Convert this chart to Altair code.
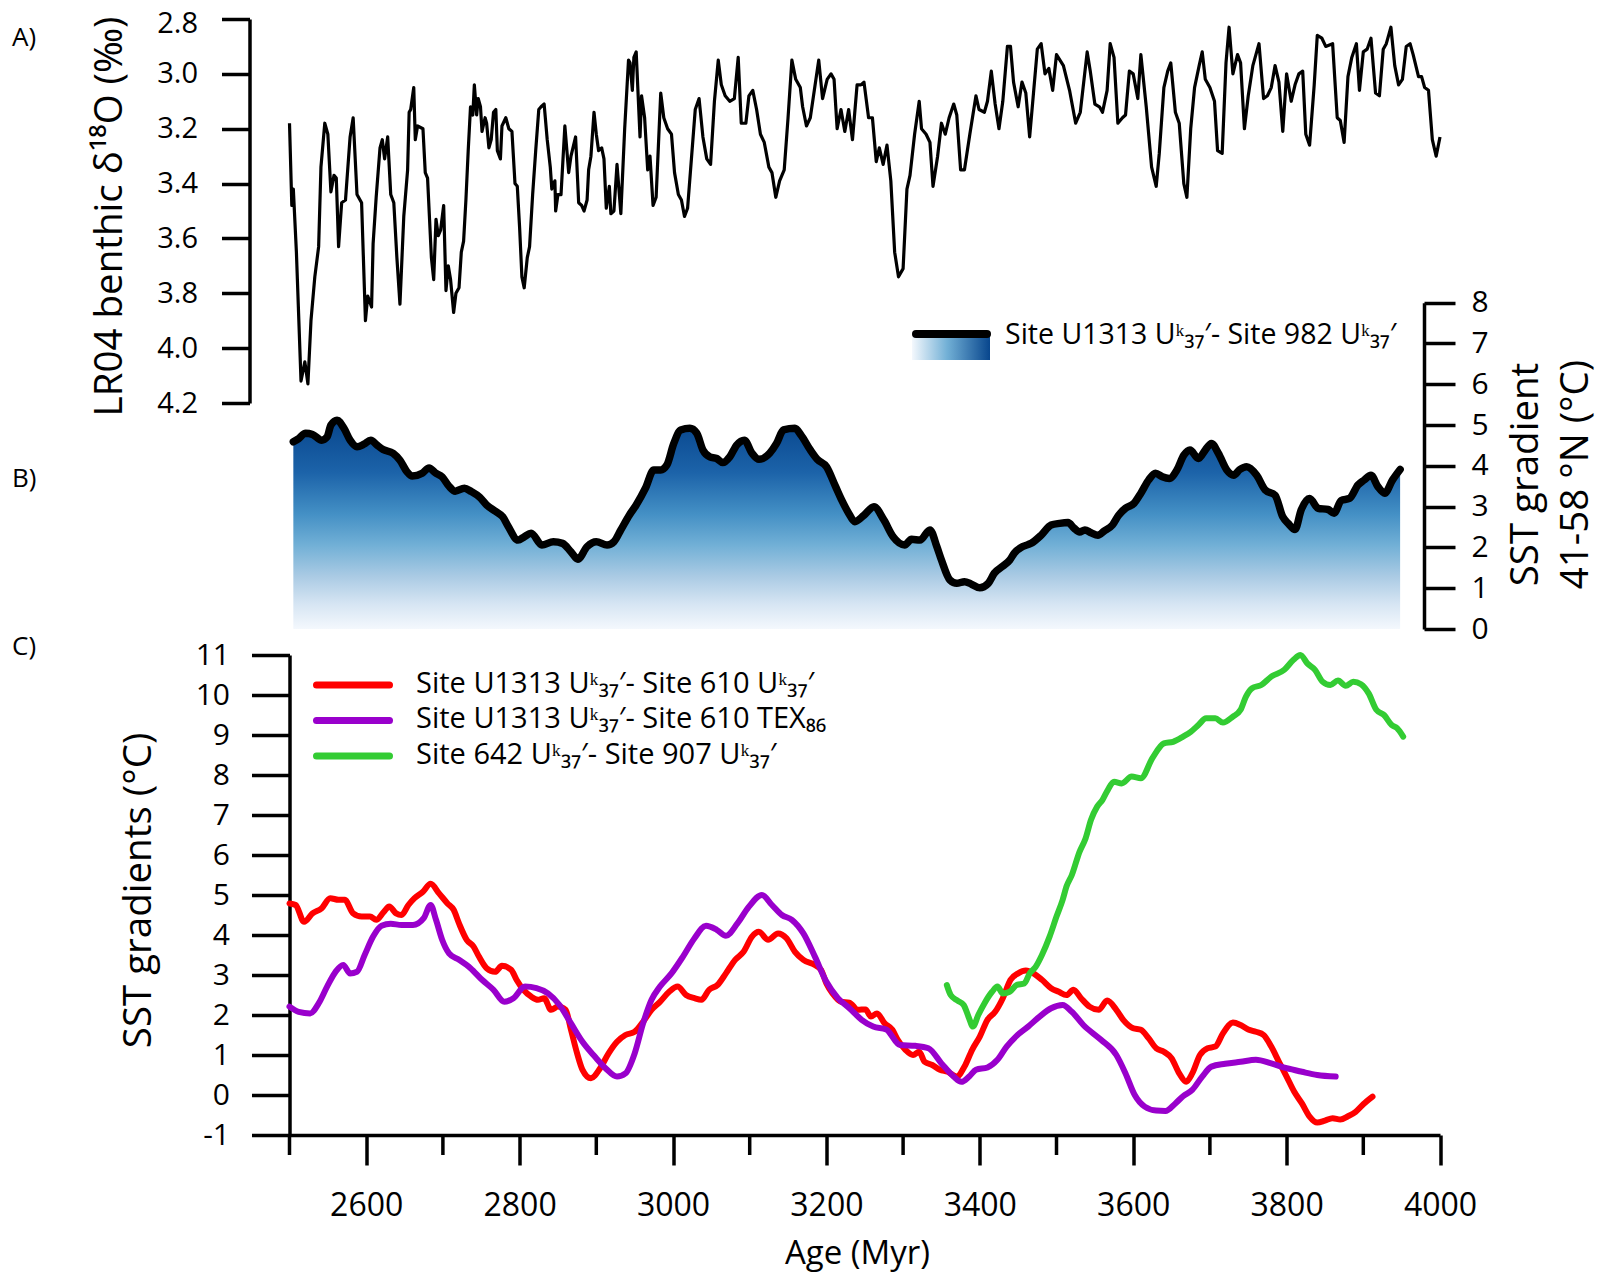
import altair as alt
import pandas as pd

FONT = "Open Sans"

# ---------------- data (age as labelled on the axis) -------------
lr04 = [(2500,3.18),(2503,3.48),(2505,3.42),(2509,3.65),(2515,4.12),(2520,4.05),(2524,4.13),(2528,3.90),
(2533,3.74),(2538,3.63),(2541,3.34),(2546,3.18),(2550,3.22),(2554,3.43),(2558,3.37),(2561,3.38),(2564,3.63),
(2568,3.47),(2573,3.46),(2579,3.23),(2583,3.16),(2588,3.44),(2594,3.47),(2599,3.90),(2602,3.81),(2607,3.85),
(2609,3.62),(2613,3.45),(2618,3.27),(2621,3.24),(2624,3.31),(2628,3.23),(2632,3.44),(2636,3.47),(2640,3.67),
(2644,3.84),(2649,3.52),(2654,3.35),(2656,3.14),(2658,3.13),(2662,3.05),(2664,3.24),(2667,3.19),(2674,3.20),
(2677,3.36),(2680,3.38),(2685,3.67),(2688,3.75),(2691,3.53),(2694,3.59),(2697,3.57),(2701,3.48),(2704,3.79),
(2707,3.70),(2710,3.75),(2714,3.87),(2717,3.80),(2721,3.78),(2724,3.65),(2727,3.61),(2730,3.46),(2733,3.28),
(2736,3.12),(2739,3.15),(2741,3.04),(2744,3.15),(2746,3.09),(2749,3.12),(2751,3.21),(2755,3.16),(2757,3.18),
(2760,3.27),(2763,3.24),(2766,3.14),(2769,3.13),(2771,3.28),(2775,3.31),(2777,3.19),(2782,3.16),(2786,3.20),
(2790,3.21),(2794,3.40),(2797,3.41),(2800,3.56),(2803,3.74),(2806,3.78),(2810,3.67),(2813,3.63),(2817,3.44),
(2821,3.28),(2825,3.13),(2828,3.12),(2832,3.11),(2836,3.24),(2840,3.34),(2842,3.42),(2846,3.39),(2847,3.50),
(2850,3.44),(2854,3.44),(2859,3.19),(2864,3.36),(2867,3.30),(2873,3.23),(2877,3.47),(2881,3.48),(2884,3.50),
(2888,3.46),(2890,3.35),(2893,3.30),(2897,3.14),(2900,3.22),(2903,3.28),(2907,3.27),(2910,3.31),(2913,3.49),
(2917,3.41),(2919,3.51),(2923,3.50),(2927,3.33),(2932,3.51),(2937,3.20),(2942,2.95),(2944,2.96),(2947,3.06),
(2949,2.94),(2952,2.92),(2957,3.23),(2959,3.08),(2963,3.16),(2967,3.35),(2970,3.30),(2974,3.48),(2978,3.45),
(2984,3.07),(2988,3.16),(2993,3.20),(2998,3.22),(3002,3.36),(3007,3.44),(3011,3.46),(3015,3.52),(3019,3.49),
(3029,3.13),(3034,3.09),(3039,3.23),(3044,3.31),(3049,3.33),(3054,3.10),(3059,2.95),(3063,3.04),(3068,3.08),
(3074,3.10),(3080,3.09),(3085,2.94),(3089,3.18),(3095,3.18),(3099,3.08),(3104,3.06),(3109,3.13),(3114,3.22),
(3119,3.25),(3125,3.34),(3129,3.36),(3134,3.45),(3139,3.39),(3145,3.35),(3150,3.16),(3155,2.95),(3160,3.02),
(3166,3.05),(3169,3.12),(3174,3.19),(3179,3.16),(3190,2.95),(3195,3.09),(3201,3.02),(3206,3.00),(3210,3.02),
(3214,3.20),(3219,3.13),(3224,3.21),(3229,3.13),(3234,3.24),(3240,3.04),(3245,3.04),(3249,3.03),(3255,3.16),
(3260,3.16),(3265,3.32),(3269,3.27),(3274,3.33),(3279,3.26),(3284,3.39),(3289,3.65),(3294,3.74),(3300,3.71),
(3305,3.42),(3309,3.37),(3315,3.22),(3321,3.10),(3324,3.20),(3330,3.22),(3335,3.25),(3339,3.41),(3345,3.30),
(3350,3.18),(3355,3.22),(3360,3.16),(3366,3.11),(3370,3.15),(3375,3.35),(3380,3.35),(3387,3.22),(3395,3.08),
(3399,3.13),(3406,3.14),(3410,3.10),(3415,2.99),(3420,3.11),(3425,3.20),(3430,3.10),(3436,2.90),(3440,2.90),
(3444,3.03),(3450,3.12),(3455,3.03),(3460,3.07),(3465,3.23),(3470,3.07),(3475,2.91),(3480,2.89),(3485,3.00),
(3490,2.98),(3495,3.06),(3500,2.93),(3509,2.97),(3517,3.06),(3525,3.18),(3531,3.14),(3540,2.92),(3544,2.99),
(3550,3.11),(3556,3.12),(3560,3.14),(3566,3.06),(3570,2.89),(3575,2.94),(3580,3.18),(3586,3.16),(3590,3.15),
(3595,2.99),(3600,3.00),(3606,3.09),(3610,2.93),(3617,3.12),(3624,3.34),(3630,3.41),(3634,3.29),(3640,3.05),
(3645,2.99),(3649,2.96),(3655,3.14),(3660,3.18),(3666,3.40),(3670,3.45),(3675,3.20),(3680,3.05),(3686,2.97),
(3690,2.92),(3694,3.02),(3700,3.05),(3706,3.10),(3710,3.28),(3716,3.29),(3721,2.96),(3725,2.83),(3730,3.00),
(3736,2.93),(3740,2.96),(3745,3.20),(3750,3.08),(3756,2.97),(3764,2.89),(3770,3.09),(3775,3.08),(3780,3.05),
(3785,2.97),(3790,3.03),(3795,3.21),(3800,3.00),(3806,3.10),(3811,3.04),(3816,3.00),(3821,2.99),(3825,3.22),
(3830,3.26),(3836,3.04),(3840,2.86),(3846,2.87),(3851,2.90),(3860,2.89),(3866,3.16),(3870,3.17),(3875,3.25),
(3880,3.01),(3885,2.94),(3891,2.89),(3895,3.06),(3900,2.92),(3905,2.91),(3910,2.87),(3916,3.07),(3921,3.08),
(3926,2.91),(3930,2.89),(3936,2.83),(3941,2.97),(3946,3.04),(3951,3.02),(3956,2.90),(3961,2.89),(3965,2.93),
(3972,3.01),(3976,3.01),(3980,3.05),(3985,3.06),(3990,3.24),(3995,3.30),(4000,3.23)]

sst_982 = [(2505,4.59),(2512,4.67),(2521,4.80),(2530,4.77),(2542,4.63),(2549,4.71),(2554,5.00),(2562,5.12),
(2571,4.92),(2579,4.63),(2588,4.47),(2597,4.53),(2606,4.63),(2614,4.51),(2622,4.40),(2635,4.31),(2644,4.14),
(2653,3.86),(2660,3.75),(2673,3.82),(2682,3.95),(2690,3.83),(2699,3.73),(2708,3.50),(2716,3.38),(2728,3.45),
(2737,3.37),(2748,3.23),(2757,3.04),(2769,2.88),(2778,2.75),(2785,2.52),(2798,2.18),(2806,2.26),(2815,2.35),
(2829,2.06),(2844,2.14),(2856,2.10),(2867,1.89),(2876,1.71),(2888,2.02),(2900,2.14),(2914,2.06),(2923,2.14),
(2932,2.43),(2943,2.79),(2952,3.04),(2964,3.45),(2975,3.90),(2984,3.90),(2992,4.02),(3001,4.55),(3010,4.88),
(3022,4.92),(3031,4.80),(3039,4.39),(3048,4.22),(3057,4.18),(3065,4.08),(3074,4.22),(3083,4.51),(3093,4.63),
(3103,4.31),(3112,4.16),(3126,4.31),(3135,4.55),(3144,4.88),(3159,4.92),(3167,4.75),(3179,4.39),(3188,4.16),
(3200,3.98),(3212,3.49),(3220,3.16),(3229,2.84),(3237,2.63),(3249,2.79),(3262,3.00),(3275,2.67),(3287,2.26),
(3302,2.06),(3311,2.20),(3322,2.18),(3335,2.43),(3344,2.02),(3350,1.69),(3361,1.20),(3370,1.12),(3380,1.16),
(3389,1.10),(3400,1.01),(3411,1.12),(3419,1.37),(3430,1.54),(3439,1.69),(3445,1.86),(3456,2.02),(3467,2.10),
(3480,2.30),(3493,2.55),(3504,2.59),(3515,2.61),(3523,2.47),(3530,2.38),(3537,2.43),(3545,2.36),(3554,2.30),
(3562,2.40),(3573,2.55),(3581,2.79),(3590,2.96),(3601,3.08),(3610,3.33),(3620,3.65),(3629,3.82),(3638,3.73),
(3647,3.69),(3657,3.90),(3666,4.26),(3674,4.39),(3685,4.18),(3694,4.39),(3702,4.55),(3711,4.31),(3722,3.90),
(3731,3.77),(3739,3.91),(3748,3.98),(3761,3.77),(3772,3.41),(3785,3.28),(3795,2.75),(3802,2.59),(3811,2.44),
(3819,2.92),(3830,3.20),(3841,2.96),(3854,2.93),(3862,2.84),(3871,3.15),(3882,3.20),(3893,3.53),(3901,3.65),
(3910,3.77),(3919,3.49),(3928,3.33),(3938,3.65),(3948,3.91)]

grad_610_uk = [(2500,4.79),(2508,4.75),(2519,4.33),(2530,4.54),(2542,4.67),(2553,4.92),(2564,4.88),(2572,4.88),
(2583,4.54),(2594,4.46),(2605,4.46),(2613,4.38),(2623,4.58),(2630,4.71),(2639,4.54),(2646,4.50),(2655,4.75),
(2663,4.92),(2674,5.08),(2684,5.28),(2695,5.04),(2706,4.79),(2714,4.63),(2721,4.29),(2731,3.88),(2740,3.71),
(2747,3.46),(2757,3.17),(2768,3.08),(2777,3.23),(2789,3.13),(2796,2.88),(2805,2.63),(2815,2.46),(2824,2.38),
(2832,2.42),(2841,2.13),(2850,2.21),(2860,2.13),(2867,1.63),(2875,1.04),(2882,0.63),(2893,0.42),(2905,0.67),
(2916,1.04),(2927,1.33),(2938,1.50),(2950,1.58),(2961,1.83),(2972,2.13),(2983,2.33),(2995,2.58),(3006,2.71),
(3017,2.50),(3028,2.42),(3037,2.38),(3047,2.63),(3058,2.75),(3069,3.04),(3081,3.38),(3092,3.58),(3103,3.96),
(3112,4.08),(3124,3.88),(3137,4.04),(3148,3.92),(3159,3.58),(3170,3.38),(3185,3.25),(3193,3.13),(3200,2.79),
(3208,2.54),(3219,2.33),(3230,2.31),(3241,2.13),(3251,2.14),(3258,1.96),(3266,2.04),(3276,1.79),(3286,1.63),
(3293,1.38),(3303,1.13),(3313,1.00),(3321,1.08),(3328,0.83),(3338,0.75),(3348,0.63),(3358,0.58),(3370,0.46),
(3380,0.71),(3390,1.13),(3400,1.46),(3410,1.88),(3420,2.08),(3430,2.42),(3440,2.88),(3450,3.04),(3460,3.11),
(3471,3.03),(3481,2.88),(3493,2.67),(3503,2.58),(3513,2.50),(3522,2.63),(3532,2.42),(3543,2.21),(3555,2.13),
(3566,2.36),(3578,2.13),(3587,1.88),(3600,1.67),(3610,1.63),(3620,1.42),(3630,1.17),(3640,1.08),(3650,0.92),
(3660,0.54),(3669,0.33),(3677,0.54),(3687,1.00),(3697,1.17),(3707,1.21),(3717,1.54),(3730,1.81),(3740,1.75),
(3750,1.64),(3760,1.58),(3770,1.50),(3780,1.21),(3790,0.83),(3800,0.46),(3810,0.08),(3820,-0.21),(3830,-0.54),
(3840,-0.69),(3850,-0.64),(3860,-0.58),(3870,-0.61),(3880,-0.53),(3890,-0.42),(3900,-0.23),(3912,-0.04)]

grad_610_tex = [(2500,2.21),(2512,2.08),(2527,2.04),(2538,2.29),(2549,2.71),(2560,3.08),(2570,3.25),(2579,3.04),
(2588,3.08),(2598,3.50),(2609,3.96),(2620,4.23),(2632,4.28),(2646,4.25),(2661,4.25),(2675,4.42),(2684,4.75),
(2691,4.38),(2699,3.88),(2708,3.54),(2721,3.38),(2736,3.17),(2751,2.88),(2766,2.63),(2780,2.33),(2792,2.42),
(2807,2.71),(2822,2.67),(2837,2.54),(2852,2.25),(2867,1.79),(2882,1.33),(2898,0.96),(2912,0.67),(2927,0.46),
(2938,0.54),(2950,1.04),(2961,1.79),(2972,2.38),(2983,2.71),(2998,3.04),(3013,3.46),(3028,3.92),(3043,4.23),
(3057,4.13),(3069,3.98),(3084,4.29),(3099,4.71),(3116,5.00),(3129,4.75),(3142,4.50),(3155,4.38),(3170,4.04),
(3185,3.46),(3200,2.83),(3215,2.42),(3230,2.17),(3246,1.88),(3261,1.71),(3278,1.64),(3296,1.25),(3316,1.23),
(3333,1.17),(3350,0.79),(3366,0.46),(3376,0.33),(3386,0.46),(3395,0.63),(3410,0.69),(3423,0.88),(3435,1.21),
(3448,1.48),(3463,1.71),(3478,1.96),(3493,2.17),(3508,2.25),(3520,2.08),(3535,1.75),(3558,1.38),(3578,1.00),
(3590,0.54),(3602,0.00),(3615,-0.29),(3630,-0.39),(3642,-0.40),(3655,-0.21),(3665,-0.03),(3677,0.13),
(3690,0.46),(3702,0.71),(3720,0.78),(3740,0.83),(3760,0.88),(3780,0.79),(3800,0.67),(3820,0.58),(3840,0.50),
(3864,0.46)]

grad_907 = [(3357,2.75),(3362,2.50),(3371,2.36),(3379,2.25),(3386,1.92),(3391,1.71),(3398,2.00),(3406,2.29),
(3416,2.58),(3423,2.71),(3430,2.54),(3439,2.58),(3448,2.75),(3458,2.79),(3465,3.04),(3473,3.21),(3481,3.50),
(3491,3.96),(3500,4.46),(3508,4.88),(3513,5.21),(3520,5.50),(3530,6.08),(3538,6.42),(3545,6.88),(3553,7.21),
(3560,7.38),(3567,7.63),(3575,7.83),(3585,7.79),(3598,7.96),(3610,7.92),(3625,8.42),(3640,8.79),(3652,8.83),
(3665,8.96),(3675,9.08),(3685,9.25),(3695,9.42),(3707,9.42),(3717,9.31),(3730,9.46),(3740,9.63),(3747,9.96),
(3755,10.17),(3767,10.25),(3780,10.46),(3797,10.63),(3809,10.88),(3818,11.00),(3827,10.79),(3837,10.63),
(3847,10.33),(3857,10.25),(3867,10.36),(3877,10.23),(3887,10.33),(3897,10.27),(3907,10.04),(3917,9.63),
(3927,9.50),(3937,9.25),(3944,9.17),(3952,8.96)]

a_ticks = [2.8, 3.0, 3.2, 3.4, 3.6, 3.8, 4.0, 4.2]
b_ticks = [0, 1, 2, 3, 4, 5, 6, 7, 8]
c_ticks = [-1, 0, 1, 2, 3, 4, 5, 6, 7, 8, 9, 10, 11]
x_major = [2600, 2800, 3000, 3200, 3400, 3600, 3800, 4000]
x_minor = [2500, 2700, 2900, 3100, 3300, 3500, 3700, 3900]

legend_c_labels = ["Site U1313 Uᵏ₃₇′- Site 610 Uᵏ₃₇′",
                   "Site U1313 Uᵏ₃₇′- Site 610 TEX₈₆",
                   "Site 642 Uᵏ₃₇′- Site 907 Uᵏ₃₇′"]
legend_c_colors = ["#ff0000", "#9900cc", "#33cc33"]
legend_b_label = "Site U1313 Uᵏ₃₇′- Site 982 Uᵏ₃₇′"
panel_labels = ["A)", "B)", "C)"]

# ---------------- build ----------------
df_a = pd.DataFrame(lr04, columns=["age", "val"])
df_b = pd.DataFrame(sst_982, columns=["age", "val"])
df_r = pd.DataFrame(grad_610_uk, columns=["age", "val"])
df_p = pd.DataFrame(grad_610_tex, columns=["age", "val"])
df_g = pd.DataFrame(grad_907, columns=["age", "val"])
df_minor = pd.DataFrame({"age": x_minor})
one = pd.DataFrame({"k": [0]})

W, H = 1150.5, 1135
LEFT = 289.5
TITLE_FS = 38.5
LEG_FS = 29

xs = alt.Scale(domain=[2500, 4000], nice=False, zero=False)
X_none = alt.X("age:Q", scale=xs, axis=None)

ya = alt.Scale(domain=[2.8, 4.2], range=[19, 403], nice=False, zero=False)
yb = alt.Scale(domain=[0, 8], range=[629, 302.7], nice=False, zero=False)
yc = alt.Scale(domain=[-1, 11], range=[1135, 655], nice=False, zero=False)

AX = dict(domainColor="black", tickColor="black", labelColor="black", titleColor="black",
          domainWidth=3.5, tickWidth=3.5, labelFont=FONT, titleFont=FONT,
          titleFontWeight="normal", grid=False, labelFlush=False, labelOverlap=False)

axis_a = alt.Axis(orient="left", offset=40, values=a_ticks, format=".1f", tickSize=28,
                  labelFontSize=29, labelPadding=24,
                  labelOffset={"condition": {"test": "datum.value < 2.85", "value": 4}, "value": 0},
                  title="LR04 benthic δ¹⁸O (‰)",
                  titleFontSize=TITLE_FS, titleAngle=270, titleAlign="center", titleBaseline="alphabetic",
                  titleX=-128, titleY=216, **AX)
axis_b = alt.Axis(orient="right", offset=-16, values=b_ticks, format="d", tickSize=31,
                  labelFontSize=30, labelPadding=16, title=["SST gradient", "41-58 °N (°C)"],
                  titleFontSize=TITLE_FS, titleAngle=270, titleAlign="center", titleBaseline="alphabetic",
                  titleX=113, titleY=474, titleLineHeight=50, **AX)
axis_c = alt.Axis(orient="left", offset=0, values=c_ticks, format="d", tickSize=38,
                  labelFontSize=30, labelPadding=22, labelExpr="replace(datum.label, '\u2212', '-')",
                  title="SST gradients (°C)",
                  titleFontSize=TITLE_FS, titleAngle=270, titleAlign="center", titleBaseline="alphabetic",
                  titleX=-139, titleY=890, **AX)
axis_x = alt.Axis(orient="bottom", values=x_major, format="d", tickSize=30,
                  labelFontSize=32, labelPadding=25, title="Age (Myr)", titleFontSize=33,
                  titleX=567.5, titleY=128, titleAlign="center", titleBaseline="alphabetic", **AX)

layer_a = alt.Chart(df_a).mark_line(color="black", strokeWidth=3.2, strokeJoin="round").encode(
    x=X_none, y=alt.Y("val:Q", scale=ya, axis=axis_a))

blue_grad = alt.Gradient(gradient="linear", x1=1, x2=1, y1=0, y2=1, stops=[
    alt.GradientStop(color="#08468d", offset=0),
    alt.GradientStop(color="#1c63a9", offset=0.25),
    alt.GradientStop(color="#4490c5", offset=0.45),
    alt.GradientStop(color="#72b0d6", offset=0.6),
    alt.GradientStop(color="#abcbe4", offset=0.75),
    alt.GradientStop(color="#d6e5f3", offset=0.88),
    alt.GradientStop(color="#f4f8fd", offset=1)])

layer_b_area = alt.Chart(df_b).mark_area(color=blue_grad, interpolate="monotone").encode(
    x=X_none, y=alt.Y("val:Q", scale=yb, axis=axis_b))
layer_b_line = alt.Chart(df_b).mark_line(color="black", strokeWidth=7.5, interpolate="monotone",
                                         strokeCap="round", strokeJoin="round").encode(
    x=X_none, y=alt.Y("val:Q", scale=yb, axis=None))


def c_line(df, color, axis=None, xaxis=None):
    return alt.Chart(df).mark_line(color=color, strokeWidth=6, interpolate="monotone",
                                   strokeCap="round", strokeJoin="round").encode(
        x=alt.X("age:Q", scale=xs, axis=xaxis), y=alt.Y("val:Q", scale=yc, axis=axis))


layer_r = c_line(df_r, legend_c_colors[0], axis=axis_c, xaxis=axis_x)
layer_p = c_line(df_p, legend_c_colors[1])
layer_g = c_line(df_g, legend_c_colors[2])

layer_minor = alt.Chart(df_minor).mark_rule(color="black", strokeWidth=3.5).encode(
    x=X_none, y=alt.value(H), y2=alt.value(H + 20))

# legend of panel C
legend_layers = []
for i, (lab, col) in enumerate(zip(legend_c_labels, legend_c_colors)):
    ly = 685 + 35.5 * i
    legend_layers.append(alt.Chart(one).mark_rule(color=col, strokeWidth=7, strokeCap="round").encode(
        x=alt.value(27), x2=alt.value(100), y=alt.value(ly)))
    legend_layers.append(alt.Chart(one).mark_text(align="left", baseline="alphabetic", font=FONT,
                                                  fontSize=LEG_FS, color="black").encode(
        x=alt.value(126.5), y=alt.value(ly + 7.5), text=alt.value(lab)))

# legend of panel B
leg_grad = alt.Gradient(gradient="linear", x1=0, x2=1, y1=0, y2=0, stops=[
    alt.GradientStop(color="#f4f8fd", offset=0),
    alt.GradientStop(color="#72b0d6", offset=0.45),
    alt.GradientStop(color="#08468d", offset=1)])
legend_layers.append(alt.Chart(one).mark_rect(fill=leg_grad).encode(
    x=alt.value(622.5), x2=alt.value(700.5), y=alt.value(337), y2=alt.value(360)))
legend_layers.append(alt.Chart(one).mark_rule(color="black", strokeWidth=8, strokeCap="round").encode(
    x=alt.value(626.5), x2=alt.value(697.5), y=alt.value(334)))
legend_layers.append(alt.Chart(one).mark_text(align="left", baseline="alphabetic", font=FONT,
                                              fontSize=LEG_FS - 0.5, color="black").encode(
    x=alt.value(715.5), y=alt.value(344), text=alt.value(legend_b_label)))

# panel letters
for lab, py in zip(panel_labels, [38, 479, 647]):
    legend_layers.append(alt.Chart(one).mark_text(align="left", baseline="middle", font=FONT,
                                                  fontSize=26, color="black").encode(
        x=alt.value(12 - LEFT), y=alt.value(py), text=alt.value(lab)))

chart = alt.layer(
    layer_b_area, layer_b_line, layer_a, layer_minor, layer_r, layer_p, layer_g, *legend_layers
).resolve_scale(y="independent").resolve_axis(x="independent", y="independent").properties(
    width=W, height=H,
    autosize=alt.AutoSizeParams(type="none"),
    padding={"left": LEFT, "top": 0, "right": 1604 - LEFT - W, "bottom": 1274 - H},
).configure_view(stroke=None, strokeWidth=0)

chart.save("out.html", embed_options={"renderer": "svg", "actions": False})
